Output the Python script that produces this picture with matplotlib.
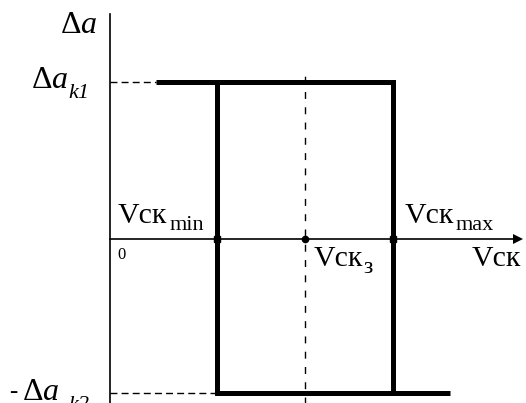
import numpy as np
import matplotlib.pyplot as plt

plt.rcParams['mathtext.fontset'] = 'custom'
plt.rcParams['mathtext.rm'] = 'Liberation Serif'
plt.rcParams['mathtext.it'] = 'Liberation Serif:italic'
plt.rcParams['font.family'] = 'Liberation Serif'

# characteristic points of the relay (hysteresis) loop
v_min, v_z, v_max = 1.1, 2.0, 2.9
da_k1, da_k2 = 1.0, 0.98
v_start, v_end = 0.47, 3.49

# upper branch and lower branch of the loop
upper_x = [v_start, v_max, v_max]
upper_y = [da_k1, da_k1, -da_k2]
lower_x = [v_min, v_min, v_end]
lower_y = [da_k1, -da_k2, -da_k2]

fig = plt.figure(figsize=(5.26, 4.03), dpi=100)
ax = fig.add_axes([0, 0, 1, 1])
ax.set_xlim(-1.128, 4.267)
ax.set_ylim(-1.045, 1.522)
ax.axis('off')


def px(x, y):
    # pixel position (from top-left) -> data coords
    return (x - 110) / 97.5, (239 - y) / 157.0


def label(x, y, s, size, **kw):
    ax.text(*px(x, y), s, fontsize=size, va='baseline', ha='left', **kw)


# axes with arrow on the abscissa
ax.plot([0, 0], [-1.1, 1.43], color='k', lw=1.2)
ax.plot([0, 4.15], [0, 0], color='k', lw=1.2)
ax.plot(4.18, 0, marker='>', color='k', ms=7, mew=0)

# dashed guide lines
ax.plot([0, v_start], [da_k1, da_k1], color='k', lw=1.0, dashes=(5, 3))
ax.plot([0, v_min], [-da_k2, -da_k2], color='k', lw=1.0, dashes=(5, 3))
ax.plot([v_z, v_z], [-1.1, 1.04], color='k', lw=1.0, dashes=(5, 6))

ax.plot(upper_x, upper_y, color='k', lw=3.6, solid_joinstyle='miter', solid_capstyle='butt')
ax.plot(lower_x, lower_y, color='k', lw=3.6, solid_joinstyle='miter', solid_capstyle='butt')

ax.plot([v_min, v_max], [0, 0], 's', color='k', ms=5)
ax.plot([v_z], [0], 'o', color='k', ms=4.5)

# ordinate labels
label(60, 33, r'$\Delta a$', 23)
label(31, 88, r'$\Delta a$', 23)
label(68, 98, 'k1', 16, style='italic')
label(9, 398, '-', 18)
label(22, 400, r'$\Delta a$', 23)
label(68, 410, 'k2', 16, style='italic')

# abscissa labels
label(118, 223, 'Vск', 21.5)
label(170, 230, 'min', 16)
label(117, 259, '0', 12)
label(314, 266, 'Vск', 21.5)
label(363, 273, 'з', 17)
label(405, 223, 'Vск', 21.5)
label(456, 230, 'max', 16)
label(472, 266, 'Vск', 21.5)

plt.savefig('out.png', format='png')
